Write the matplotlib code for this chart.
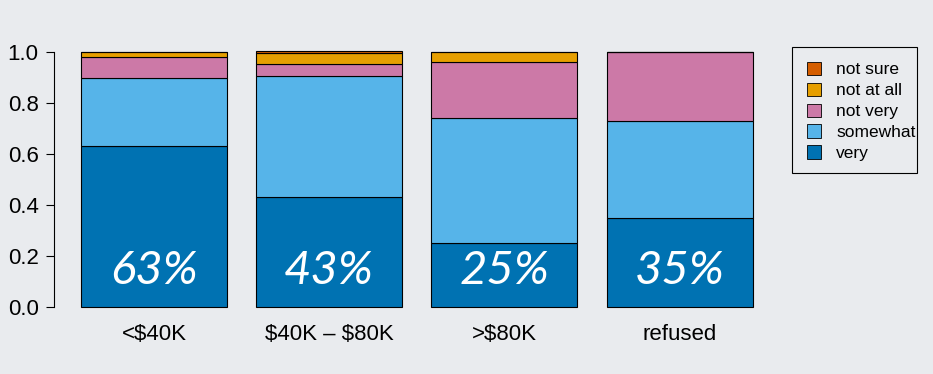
import matplotlib
matplotlib.use("Agg")
import matplotlib.pyplot as plt
from matplotlib.patches import Patch, Rectangle
import numpy as np

categories = ["<$40K", "$40K – $80K", ">$80K", "refused"]
levels = ["very", "somewhat", "not very", "not at all", "not sure"]
very = [0.63, 0.43, 0.25, 0.35]
somewhat = [0.27, 0.475, 0.49, 0.38]
not_very = [0.08, 0.05, 0.22, 0.27]
not_at_all = [0.02, 0.04, 0.04, 0.0]
not_sure = [0.0, 0.01, 0.0, 0.0]
pct_labels = ["63%", "43%", "25%", "35%"]
colors = ["#0072B2", "#56B4E9", "#CC79A7", "#E69F00", "#D55E00"]

plt.rcParams['font.family'] = ['Liberation Sans', 'DejaVu Sans']
plt.rcParams['text.parse_math'] = False

bg = "#e9ebee"
fig = plt.figure(figsize=(9.33, 3.74), dpi=100)
fig.patch.set_facecolor(bg)
ax = fig.add_axes([0.0579, 0.152, 0.8355 - 0.0579, 0.888 - 0.152])
ax.set_facecolor("none")

series = [very, somewhat, not_very, not_at_all, not_sure]
x = 0.7 + 1.2 * np.arange(len(categories))
bottom = np.zeros(len(categories))
for vals, col in zip(series, colors):
    vals = np.array(vals)
    ax.bar(x, vals, width=1.0, bottom=bottom, color=col, edgecolor="black",
           linewidth=0.8, zorder=2)
    bottom += vals

for xi, lab in zip(x, pct_labels):
    ax.text(xi, 0.14, lab, color="white", fontsize=34, ha="center", va="center",
            family=["Lato", "DejaVu Sans"], style="italic", zorder=3)

ax.set_xlim(0.016, 4.984)
ax.set_ylim(-0.04, 1.04)
for s in ["top", "right", "bottom"]:
    ax.spines[s].set_visible(False)
ax.spines["left"].set_bounds(0, 1)
ax.spines["left"].set_linewidth(0.8)
ax.set_yticks([0, 0.2, 0.4, 0.6, 0.8, 1.0])
ax.set_yticklabels(["0.0", "0.2", "0.4", "0.6", "0.8", "1.0"])
ax.tick_params(axis="y", length=6, width=0.8, labelsize=16, pad=5)
ax.set_xticks(x)
ax.set_xticklabels(categories)
ax.tick_params(axis="x", length=0, labelsize=16, pad=5)

handles = [Patch(facecolor=c, edgecolor="black", linewidth=0.6, label=l)
           for l, c in zip(levels[::-1], colors[::-1])]
leg = fig.legend(handles=handles, loc="upper left",
                 bbox_to_anchor=(792 / 933, 1 - 47 / 374),
                 frameon=False, fontsize=12.5, handlelength=0.8, handleheight=0.8,
                 handletextpad=0.9, labelspacing=0.3, borderpad=0.85,
                 borderaxespad=0)
fig.add_artist(Rectangle((792 / 933, 1 - 173 / 374), (917 - 792) / 933,
                         (173 - 47) / 374, transform=fig.transFigure,
                         facecolor="none", edgecolor="black", linewidth=0.8))

fig.savefig("out.png", dpi=100, facecolor=fig.get_facecolor())
